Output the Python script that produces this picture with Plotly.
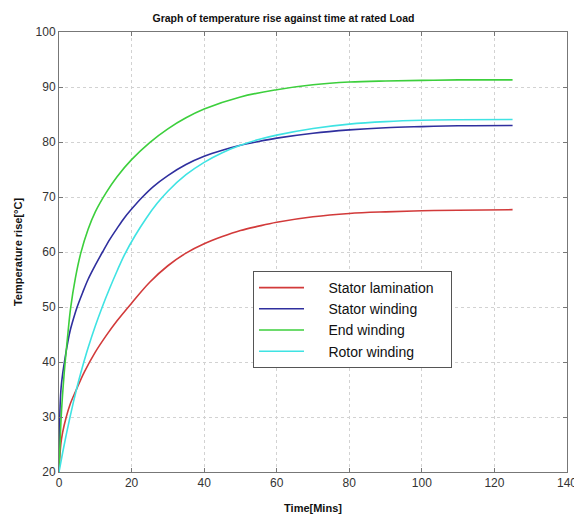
import plotly.graph_objects as go

# Data (time in minutes, temperature rise in °C)
t_red = [0, 0.5, 1, 2, 3, 5, 7, 10, 13, 16, 20, 25, 30, 35, 40, 45, 50, 55, 60, 70, 80, 90, 100, 110, 125]
stator_lamination = [20, 25, 27.2, 30, 32.2, 35.3, 38.2, 41.8, 44.8, 47.5, 50.7, 54.5, 57.5, 59.8, 61.5,
                     62.8, 63.9, 64.7, 65.4, 66.4, 67.0, 67.3, 67.5, 67.6, 67.7]

t_blue = [0, 0.15, 0.3, 0.6, 1, 1.5, 2.2, 3, 4, 5, 6.5, 8, 10, 12, 14, 16, 18, 20, 23, 26, 30, 35, 40,
          45, 50, 55, 60, 70, 80, 90, 100, 110, 125]
stator_winding = [20, 27, 32, 35.5, 37.8, 40, 42.8, 45.5, 47.9, 50, 52.6, 55, 57.6, 60, 62.3, 64.3, 66.2,
                  67.8, 70, 71.9, 73.9, 75.9, 77.4, 78.5, 79.4, 80.1, 80.7, 81.6, 82.2, 82.6, 82.8, 82.95, 83.0]

t_green = [0, 0.6, 1.2, 1.7, 2.5, 3.2, 4.5, 6, 8, 10, 13, 16, 20, 25, 30, 35, 40, 50, 60, 70, 80, 90,
           100, 110, 125]
end_winding = [20, 30, 36, 40, 45.5, 49.8, 55.2, 59.8, 64.1, 67.3, 70.8, 73.7, 76.8, 79.9, 82.4, 84.4, 86,
               88.2, 89.5, 90.4, 90.9, 91.1, 91.2, 91.3, 91.3]

t_cyan = [0, 1, 2, 3, 4, 5, 6, 7, 8, 10, 12, 14, 16, 18, 21, 24, 27, 30, 35, 40, 45, 50, 55, 60, 70,
          80, 90, 100, 110, 125]
rotor_winding = [20, 23.5, 26.8, 29.9, 32.8, 35.5, 38.0, 40.35, 42.55, 46.55, 50.15, 53.45, 56.55, 59.45,
                 63.0, 66.1, 68.8, 71.05, 74.05, 76.3, 78.05, 79.4, 80.45, 81.25, 82.45, 83.25, 83.7,
                 83.95, 84.05, 84.1]

NB = "\u00a0"
series = [
    (NB * 5 + "Stator lamination" + NB * 3, t_red, stator_lamination, "#d23a3a"),
    (NB * 5 + "Stator winding", t_blue, stator_winding, "#2f2f9e"),
    (NB * 5 + "End winding", t_green, end_winding, "#3ccf3c"),
    (NB * 5 + "Rotor winding", t_cyan, rotor_winding, "#3fe3e3"),
]

x_ticks = [0, 20, 40, 60, 80, 100, 120, 140]
y_ticks = [20, 30, 40, 50, 60, 70, 80, 90, 100]

fig = go.Figure()
for name, t, v, c in series:
    fig.add_trace(go.Scatter(x=t, y=v, mode="lines", name=name,
                             line=dict(color=c, width=1.6, shape="spline", smoothing=1.0)))

axis_common = dict(
    showline=True, linecolor="#777", linewidth=1, mirror="ticks",
    ticks="inside", ticklen=4, tickcolor="#777",
    showgrid=True, gridcolor="#d2d2d2", griddash="dot", gridwidth=1,
    zeroline=False, ticklabeloverflow="allow",
    tickfont=dict(family="Arial, Liberation Sans", size=12, color="#333"),
)

fig.update_layout(
    width=574, height=518,
    margin=dict(l=59, r=7, t=32, b=46, autoexpand=False),
    paper_bgcolor="white", plot_bgcolor="white",
    title=dict(text="<b>Graph of temperature rise against time at rated Load</b>",
               x=283.5 / 574, xref="container", xanchor="center",
               y=1 - 18 / 518, yref="container", yanchor="middle",
               font=dict(family="Arial, Liberation Sans", size=10.5, color="#111")),
    xaxis=dict(range=[0, 140], tickvals=x_ticks,
               title=dict(text="<b>Time[Mins]</b>", standoff=14,
                          font=dict(family="Arial, Liberation Sans", size=11, color="#111")),
               **axis_common),
    yaxis=dict(range=[20, 100], tickvals=y_ticks,
               title=dict(text="<b>Temperature rise[°C]</b>", standoff=10,
                          font=dict(family="Arial, Liberation Sans", size=11, color="#111")),
               **axis_common),
    legend=dict(x=(253 - 59) / 508, y=(472 - 271) / 440, xanchor="left", yanchor="top",
                bgcolor="white", bordercolor="#555", borderwidth=1,
                font=dict(family="Arial, Liberation Sans", size=14, color="#111"),
                itemwidth=45, tracegroupgap=0),
    showlegend=True,
)

fig.write_html("out.html", config={"displayModeBar": False},
               post_script="document.body.style.margin='0';")
